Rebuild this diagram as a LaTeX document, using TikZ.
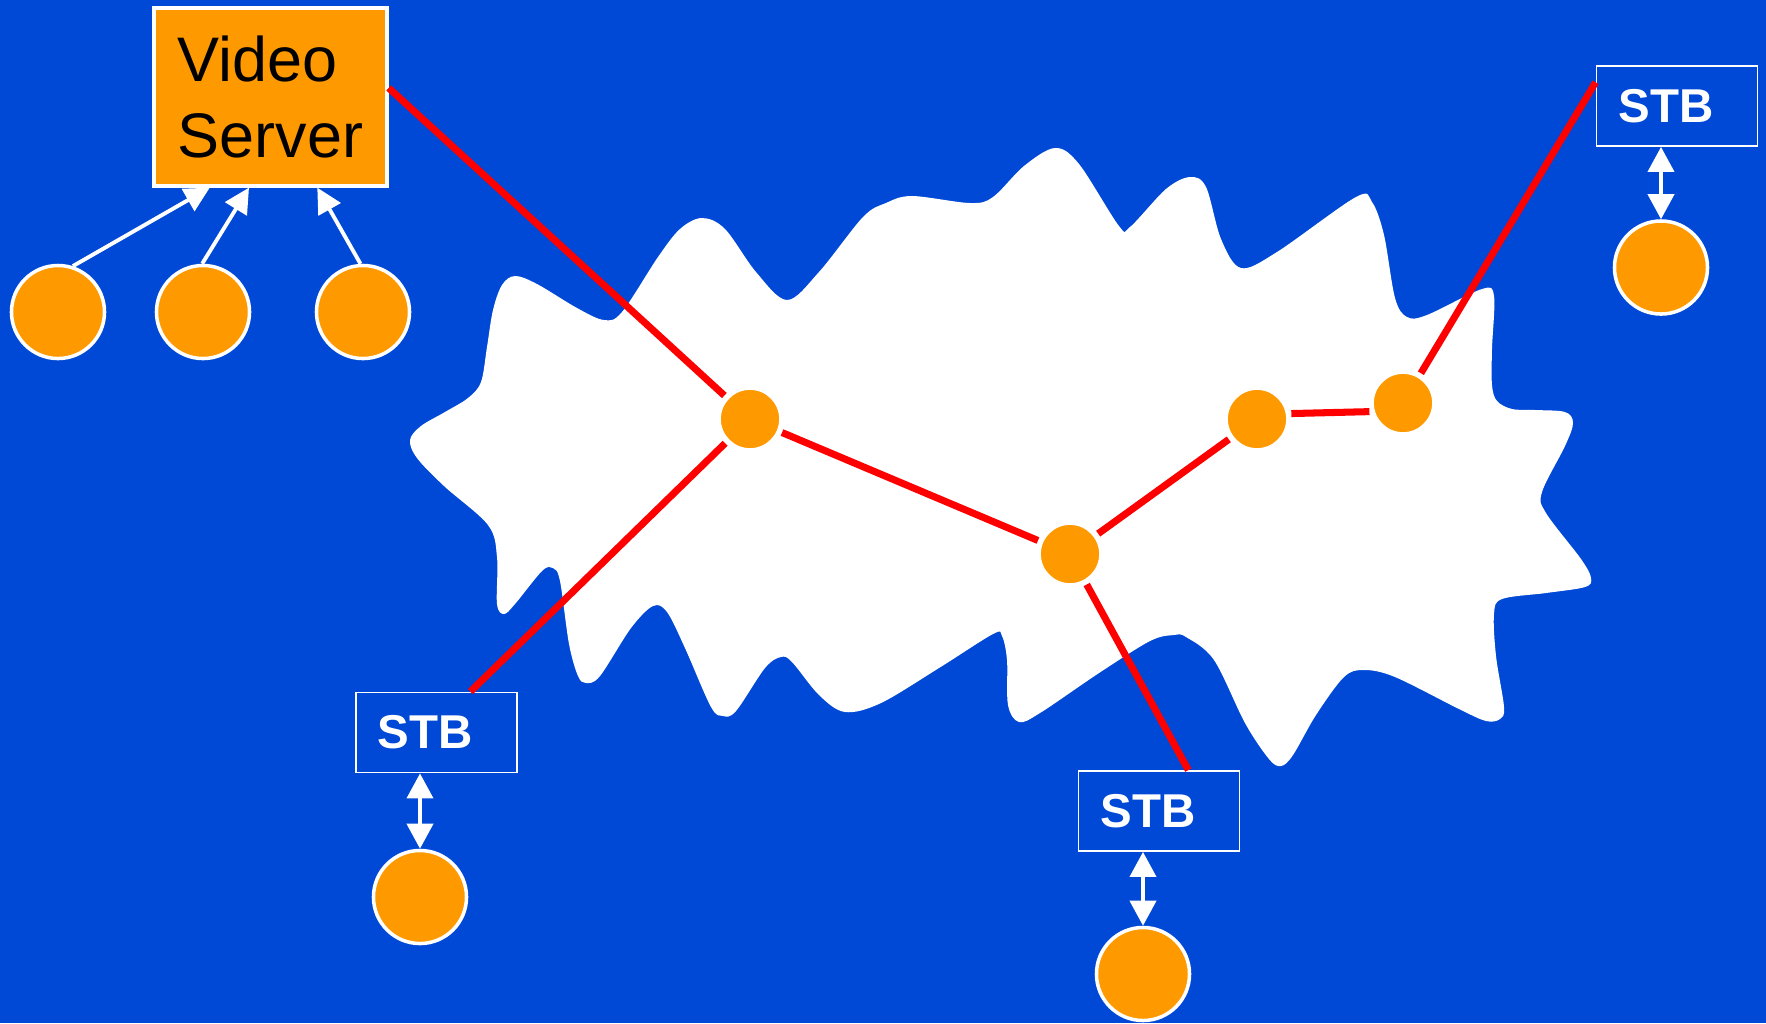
\documentclass[tikz,border=0pt]{standalone}
\usepackage{fontspec}
\setmainfont{Liberation Sans}
\usetikzlibrary{arrows.meta,calc}
\definecolor{bgblue}{RGB}{0,73,214}
\definecolor{vodorange}{RGB}{255,153,0}
\definecolor{linkred}{RGB}{255,0,0}

\begin{document}
\begin{tikzpicture}[x=0.01cm,y=-0.01cm,
  client/.style={circle,fill=vodorange,draw=white,line width=1pt,
    minimum size=0.93cm,inner sep=0pt},
  router/.style={circle,fill=vodorange,draw=white,line width=0.5pt,
    minimum size=0.6cm,inner sep=0pt},
  stbbox/.style={rectangle,draw=white,line width=0.5pt,
    minimum width=1.61cm,minimum height=0.8cm,inner xsep=0.22cm,inner ysep=0pt,
    text width=1.17cm,align=left,text=white,
    font=\bfseries\fontsize{13.5pt}{16pt}\selectfont},
  serverbox/.style={rectangle,fill=vodorange,draw=white,line width=0.9pt,
    minimum width=2.33cm,minimum height=1.78cm,inner sep=0pt,align=left,
    font=\fontsize{17.9pt}{21.6pt}\selectfont},
  redlink/.style={draw=linkred,line width=2pt},
  reqarrow/.style={draw=white,line width=1.1pt,
    -{Triangle[length=0.25cm,width=0.25cm]}},
  sessarrow/.style={draw=white,line width=1.1pt,
    {Triangle[length=0.25cm,width=0.26cm]}-{Triangle[length=0.25cm,width=0.26cm]}},
]
% background
\fill[bgblue] (0,0) rectangle (1766,1023);
\path[use as bounding box] (0,0) rectangle (1766,1023);

% the network cloud
\fill[white] plot[smooth cycle, tension=0.55] coordinates {
  (410,440) (421,426) (445,412) (468,398) (481,382) (487,347) (493,310)
  (502,285) (515,276)
  (537,284) (577,308) (604,320) (622,312) (658,257) (680,229) (702,218)
  (725,229) (756,272) (787,300) (819,272) (863,217) (886,203) (912,196)
  (970,203) (993,197) (1024,166) (1055,148) (1079,164) (1119,226) (1130,227)
  (1166,189) (1190,177) (1206,187) (1221,239) (1241,268) (1277,252)
  (1356,197) (1372,202) (1384,235) (1395,298) (1407,317) (1427,315)
  (1482,289) (1494,296) (1492,349) (1492,385) (1497,401) (1512,409)
  (1535,410) (1565,412) (1573,423) (1565,446) (1542,492) (1546,513)
  (1581,559) (1591,578) (1585,587) (1546,593) (1502,599) (1494,614)
  (1496,656) (1504,707) (1500,719) (1486,721) (1459,709) (1395,677)
  (1364,670) (1344,677) (1316,715) (1293,755) (1281,766) (1269,759)
  (1245,723) (1214,660) (1186,637) (1174,635) (1150,641) (1099,673)
  (1040,713) (1019,722) (1008,705) (1007,660) (1002,636) (993,634)
  (939,668) (881,703) (845,712) (819,695) (792,662) (781,657) (765,668)
  (736,711) (723,716) (711,707) (685,648) (667,612) (653,606) (631,628)
  (600,676) (586,683) (578,676) (569,644) (560,581) (553,568) (542,571)
  (515,604) (504,614) (497,604) (497,557) (488,525) (444,486) (417,458)
};

% server and its clients
\node[serverbox] (vs) at (270.5,97) {Video\\Server};
\node[client] (c1) at (58,312) {};
\node[client] (c2) at (203,312) {};
\node[client] (c3) at (363,312) {};

% routers inside the cloud
\node[router] (ra) at (750,419) {};
\node[router] (rb) at (1070,554) {};
\node[router] (rc) at (1257,419) {};
\node[router] (rd) at (1403,403) {};

% set-top boxes and their viewers
\node[stbbox] (s1) at (1677,106) {STB};
\node[stbbox] (s2) at (436.5,732.5) {STB};
\node[stbbox] (s3) at (1159,811) {STB};
\node[client] (u1) at (1661,267.5) {};
\node[client] (u2) at (420,897) {};
\node[client] (u3) at (1143,974) {};

% requests to the server
\draw[reqarrow] (c1.72) -- ($(vs.south west)!0.243!(vs.south east)$);
\draw[reqarrow] (c2.91) -- ($(vs.south west)!0.409!(vs.south east)$);
\draw[reqarrow] (c3.93) -- ($(vs.south west)!0.698!(vs.south east)$);

% viewer <-> set-top box
\draw[sessarrow] (u1.north) -- (u1.north |- s1.south);
\draw[sessarrow] (u2.north) -- (u2.north |- s2.south);
\draw[sessarrow] (u3.north) -- (u3.north |- s3.south);

% delivery links
\draw[redlink, shorten >=1.1pt] ($(vs.north east)!0.45!(vs.south east)$) -- (ra);
\draw[redlink, shorten <=1.1pt] (ra) -- ($(s2.north west)!0.708!(s2.north east)$);
\draw[redlink, shorten <=1.1pt, shorten >=1.1pt] (ra) -- (rb);
\draw[redlink, shorten <=1.1pt, shorten >=1.1pt] (rb) -- (rc);
\draw[redlink, shorten <=1.1pt, shorten >=1.1pt] (rc.10) -- (rd.196);
\draw[redlink, shorten <=1.1pt] (rd) -- ($(s1.north west)!0.21!(s1.south west)$);
\draw[redlink, shorten <=1.1pt] (rb) -- ($(s3.north west)!0.68!(s3.north east)$);
\end{tikzpicture}
\end{document}
